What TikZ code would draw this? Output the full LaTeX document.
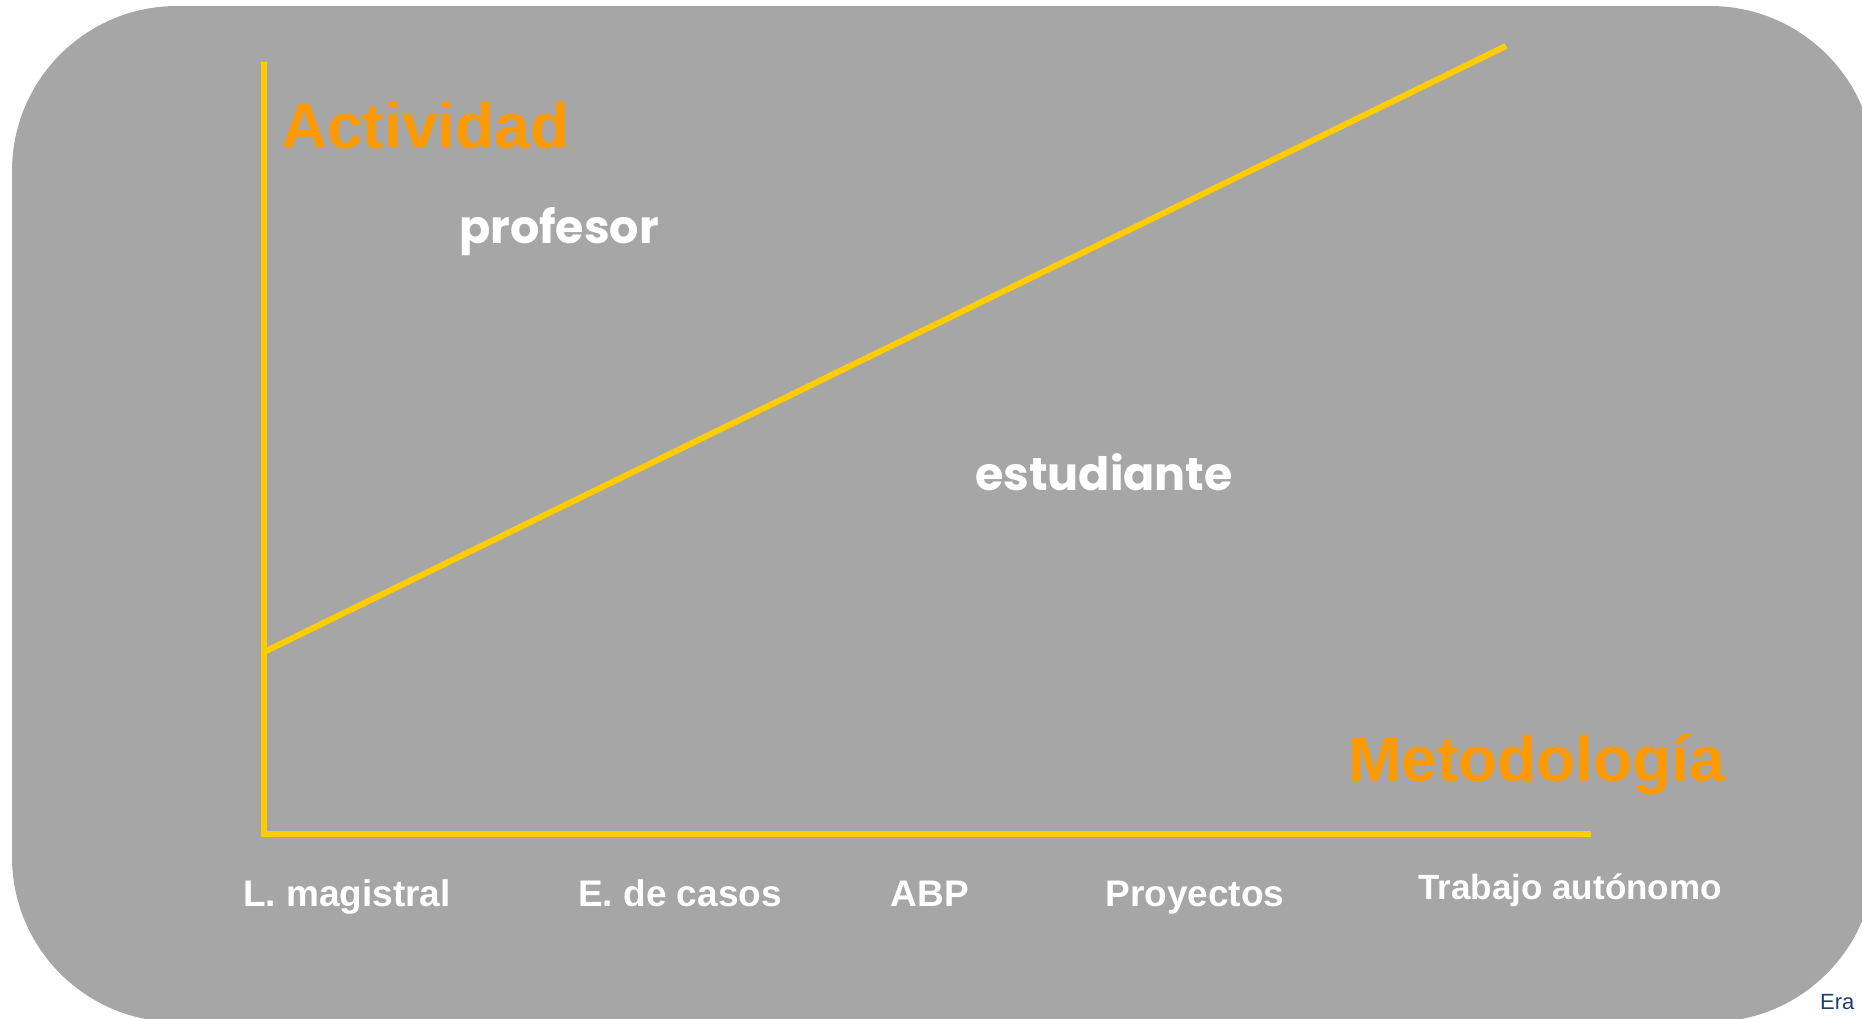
\documentclass[tikz,border=0pt]{standalone}
\usepackage{fontspec}
\setmainfont{Liberation Sans}
\newfontfamily\handfont{Poppins}
\definecolor{slidegray}{RGB}{166,166,166}
\definecolor{axisyellow}{RGB}{255,204,0}
\definecolor{titleorange}{RGB}{255,153,0}
\definecolor{logoblue}{RGB}{31,63,111}
\tikzstyle{axis} = [draw=axisyellow,line width=6pt]
\tikzstyle{title} = [text=titleorange,inner sep=0pt,font=\fontsize{64}{72}\selectfont\bfseries]
\tikzstyle{role} = [text=white,inner sep=0pt,font=\handfont\fontsize{46}{54}\selectfont\bfseries]
\tikzstyle{method} = [text=white,inner sep=0pt,font=\fontsize{37}{44}\selectfont\bfseries]

\begin{document}
\begin{tikzpicture}[x=1pt,y=-1pt]
    \useasboundingbox (0,0) rectangle (1862,1018);

% Panel and axes
    \fill[slidegray,rounded corners=165pt] (12,6) rectangle (1875,1022);
    \coordinate (ytop) at (264,62);
    \coordinate (origin) at (264,834);
    \coordinate (xend) at (1591,834);
    \coordinate (low) at (266,651);
    \coordinate (high) at (1506,46);
    \draw[axis] (ytop) -- (origin) -- (xend);
    \draw[axis] (low) -- (high);

    % labels
    \node[title,anchor=base west] at (281,148) (actividad) {Actividad};
    \node[title,anchor=base west] at (1348,781) (metodologia) {Metodología};
    \node[role,anchor=base] at (559,243) (profesor) {profesor};
    \node[role,anchor=base] at (1104,490) (estudiante) {estudiante};
    \node[method,anchor=base] at (347,906) (leccion) {L. magistral};
    \node[method,anchor=base] at (680,906) (casos) {E. de casos};
    \node[method,anchor=base] at (930,906) (abp) {ABP};
    \node[method,anchor=base] at (1195,906) (proyectos) {Proyectos};
    \node[method,anchor=base,font=\fontsize{35}{42}\selectfont\bfseries] at (1570,899) (autonomo) {Trabajo autónomo};
    \node[text=logoblue,inner sep=0pt,anchor=base west,font=\fontsize{22}{26}\selectfont] at (1820,1009) (era) {Era};
\end{tikzpicture}
\end{document}
